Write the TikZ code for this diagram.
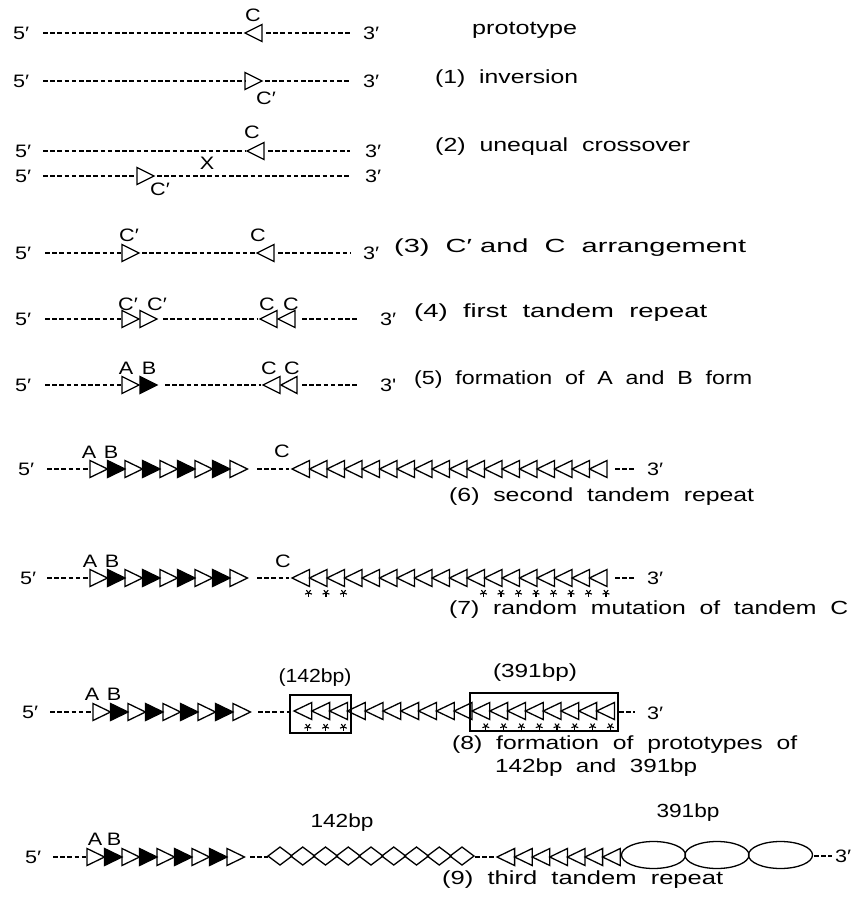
\documentclass[tikz,border=0pt]{standalone}
\usepackage{fontspec}
\usepackage{graphicx}
\setmainfont{Liberation Sans}
\newfontfamily\labfont[FakeStretch=1.2]{Liberation Sans}
\tikzset{
  dna/.style={line width=1.3pt, dash pattern=on 4.5pt off 2.7pt},
  tri/.style={line width=1.3pt, line join=miter},
  solid tri/.style={tri, fill=black},
  lab/.style={font=\labfont\fontsize{18}{20}\selectfont, inner sep=0pt},
  captxt/.style={font=\fontsize{19}{22}\selectfont, inner sep=0pt},
  bx/.style={line width=1.1pt},
  starline/.style={line width=1.1pt},
}
% right-pointing triangle: left side at x, width w
\newcommand\RT[4][tri]{\draw[#1] ({#2},{#3-8.5}) -- ({#2+#4},{#3}) -- ({#2},{#3+8.5}) -- cycle;}
% left-pointing triangle: tip at x, width w
\newcommand\LT[4][tri]{\draw[#1] ({#2},{#3}) -- ({#2+#4},{#3-8.5}) -- ({#2+#4},{#3+8.5}) -- cycle;}
\newcommand\ABrun[3]{\foreach \i in {0,...,8}{\pgfmathsetmacro\xx{#1+#3*\i}%
  \ifodd\i\relax \RT[solid tri]{\xx}{#2}{#3}\else \RT{\xx}{#2}{#3}\fi}}
\newcommand\Crun[4]{\foreach \i in {1,...,#3}{\pgfmathsetmacro\xx{#1+#4*(\i-1)}\LT{\xx}{#2}{#4}}}
\newcommand\mstar[2]{\foreach \a in {90,162,234,306,18}{\draw[starline] (#1,#2) -- ++(\a:3.6);}}
\newcommand\Capt[6][west]{\node[captxt,anchor=#1] (#2) at (#3,#4) {\resizebox{#5pt}{\height}{#6}};}
\begin{document}
\begin{tikzpicture}[x=1pt,y=-1pt]
\fill[white] (0,0) rectangle (853,900);
\useasboundingbox (0,0) rectangle (853,900);

% ---- prototype
\node[lab,anchor=west] (p5) at (13,33) {5′};
\draw[dna] (43,33) -- (245,33);
\LT{245}{33}{17}
\node[lab] (pC) at (253,15) {C};
\draw[dna] (266,33) -- (350,33);
\node[lab,anchor=west] (p3) at (363,33) {3′};
\Capt{cP}{472}{30}{105}{prototype}

% ---- (1)
\node[lab,anchor=west] (a5) at (13,81) {5′};
\draw[dna] (43,81) -- (245,81);
\RT{245}{81}{17}
\node[lab] (aC) at (266,98) {C′};
\draw[dna] (265,81) -- (350,81);
\node[lab,anchor=west] (a3) at (363,81) {3′};
\Capt{c1}{435}{79}{143}{(1)\ \ inversion}

% ---- (2)
\node[lab,anchor=west] (b5) at (15,151) {5′};
\draw[dna] (43,151) -- (246,151);
\LT{247}{151}{17}
\node[lab] (bC) at (252,132) {C};
\draw[dna] (268,151) -- (350,151);
\node[lab,anchor=west] (b3) at (365,151) {3′};
\node[lab] (bX) at (207,163) {X};
\node[lab,anchor=west] (bb5) at (15,176) {5′};
\draw[dna] (43,176) -- (136,176);
\RT{137}{176}{17}
\node[lab] (bbC) at (160,189) {C′};
\draw[dna] (157,176) -- (350,176);
\node[lab,anchor=west] (bb3) at (365,176) {3′};
\Capt{c2}{435}{147}{255}{(2)\ \ unequal\ \ crossover}

% ---- (3)
\node[lab,anchor=west] (d5) at (15,253) {5′};
\draw[dna] (45,253) -- (121,253);
\RT{122}{253}{17}
\node[lab] (dC1) at (129,235) {C′};
\draw[dna] (142,253) -- (256,253);
\LT{257}{253}{17}
\node[lab] (dC2) at (258,235) {C};
\draw[dna] (278,253) -- (351,253);
\node[lab,anchor=west] (d3) at (363,253) {3′};
\Capt{c3}{394}{248}{352}{(3)\ \ C′ and\ \ C\ \ arrangement}

% ---- (4)
\node[lab,anchor=west] (e5) at (15,319) {5′};
\draw[dna] (45,319) -- (121,319);
\RT{122}{319}{17}
\RT{140}{319}{17}
\node[lab] (eC1) at (128,304) {C′};
\node[lab] (eC2) at (157,304) {C′};
\draw[dna] (163,319) -- (258,319);
\LT{260}{319}{17}
\LT{278}{319}{17}
\node[lab] (eC3) at (267,304) {C};
\node[lab] (eC4) at (291,304) {C};
\draw[dna] (302,319) -- (358,319);
\node[lab,anchor=west] (e3) at (380,319) {3′};
\Capt{c4}{414}{313}{293}{(4)\ \ first\ \ tandem\ \ repeat}

% ---- (5)
\node[lab,anchor=west] (f5) at (15,385) {5′};
\draw[dna] (45,385) -- (121,385);
\RT{122}{385}{17}
\RT[solid tri]{140}{385}{17}
\node[lab] (fA) at (126,368) {A};
\node[lab] (fB) at (149,368) {B};
\draw[dna] (165,385) -- (261,385);
\LT{263}{385}{17}
\LT{281}{385}{16}
\node[lab] (fC1) at (269,368) {C};
\node[lab] (fC2) at (292,368) {C};
\draw[dna] (302,385) -- (358,385);
\node[lab,anchor=west] (f3) at (380,385) {3'};
\Capt{c5}{414}{380}{338}{(5)\ \ formation\ \ of\ \ A\ \ and\ \ B\ \ form}

% ---- (6)
\node[lab,anchor=west] (g5) at (18,469) {5′};
\draw[dna] (47,469) -- (89,469);
\ABrun{90}{469}{17.5}
\node[lab] (gA) at (89,452) {A};
\node[lab] (gB) at (111,452) {B};
\draw[dna] (257,469) -- (289,469);
\node[lab] (gC) at (282,451) {C};
\Crun{292}{469}{18}{17.5}
\draw[dna] (615,469) -- (634,469);
\node[lab,anchor=west] (g3) at (647,469) {3′};
\Capt{c6}{449}{497}{305}{(6)\ \ second\ \ tandem\ \ repeat}

% ---- (7)
\node[lab,anchor=west] (h5) at (20,578) {5′};
\draw[dna] (47,578) -- (89,578);
\ABrun{90}{578}{17.5}
\node[lab] (hA) at (90,561) {A};
\node[lab] (hB) at (112,561) {B};
\draw[dna] (257,578) -- (289,578);
\node[lab] (hC) at (283,561) {C};
\Crun{292}{578}{18}{17.5}
\foreach \k in {1,2,3,11,12,13,14,15,16,17,18}{\pgfmathsetmacro\sx{292+17.5*\k-1}\mstar{\sx}{593}}
\draw[dna] (615,578) -- (634,578);
\node[lab,anchor=west] (h3) at (647,578) {3′};
\Capt{c7}{449}{610}{399}{(7)\ \ random\ \ mutation\ \ of\ \ tandem\ \ C}

% ---- (8)
\node[lab,anchor=west] (i5) at (22,712) {5′};
\draw[dna] (50,712) -- (92,712);
\ABrun{93}{712}{17.5}
\node[lab] (iA) at (92,694) {A};
\node[lab] (iB) at (114,694) {B};
\draw[dna] (258,712) -- (289,712);
\Crun{294}{711}{18}{17.8}
\draw[bx] (290,695) rectangle (351,733);
\draw[bx] (470,693) rectangle (618,731);
\node[captxt] (i142) at (315,678) {\resizebox{73pt}{\height}{(142bp)}};
\node[captxt] (i391) at (535,673) {\resizebox{84pt}{\height}{(391bp)}};
\foreach \k in {1,2,3}{\pgfmathsetmacro\sx{294+17.8*\k-4}\mstar{\sx}{727}}
\foreach \k in {11,...,18}{\pgfmathsetmacro\sx{294+17.8*\k-4}\mstar{\sx}{726.5}}
\draw[dna] (619,712) -- (635,712);
\node[lab,anchor=west] (i3) at (647,713) {3′};
\Capt{c8}{452}{745}{345}{(8)\ \ formation\ \ of\ \ prototypes\ \ of}
\Capt{c8b}{495}{768}{202}{142bp\ \ and\ \ 391bp}

% ---- (9)
\node[lab,anchor=west] (j5) at (25,857) {5′};
\draw[dna] (53,857) -- (86,857);
\ABrun{87}{857}{17.5}
\node[lab] (jA) at (95,839) {A};
\node[lab] (jB) at (114,839) {B};
\draw[dna] (250,857) -- (268,857);
\foreach \k in {0,...,8}{\pgfmathsetmacro\cx{280+22.75*\k}
  \draw[tri] ({\cx-12},856) -- (\cx,847) -- ({\cx+12},856) -- (\cx,865) -- cycle;}
\node[captxt] (j142) at (342,823) {\resizebox{63pt}{\height}{142bp}};
\draw[dna] (475,857) -- (496,857);
\Crun{497}{857}{7}{17.6}
\foreach \cx in {653.5,717,780.5}{\draw[tri] (\cx,855) ellipse [x radius=32pt, y radius=13.5pt];}
\node[captxt] (j391) at (688,813) {\resizebox{63pt}{\height}{391bp}};
\draw[dna] (814,856) -- (832,856);
\node[lab,anchor=west] (j3) at (835,856) {3′};
\Capt{c9}{442}{880}{281}{(9)\ \ third\ \ tandem\ \ repeat}
\end{tikzpicture}
\end{document}
